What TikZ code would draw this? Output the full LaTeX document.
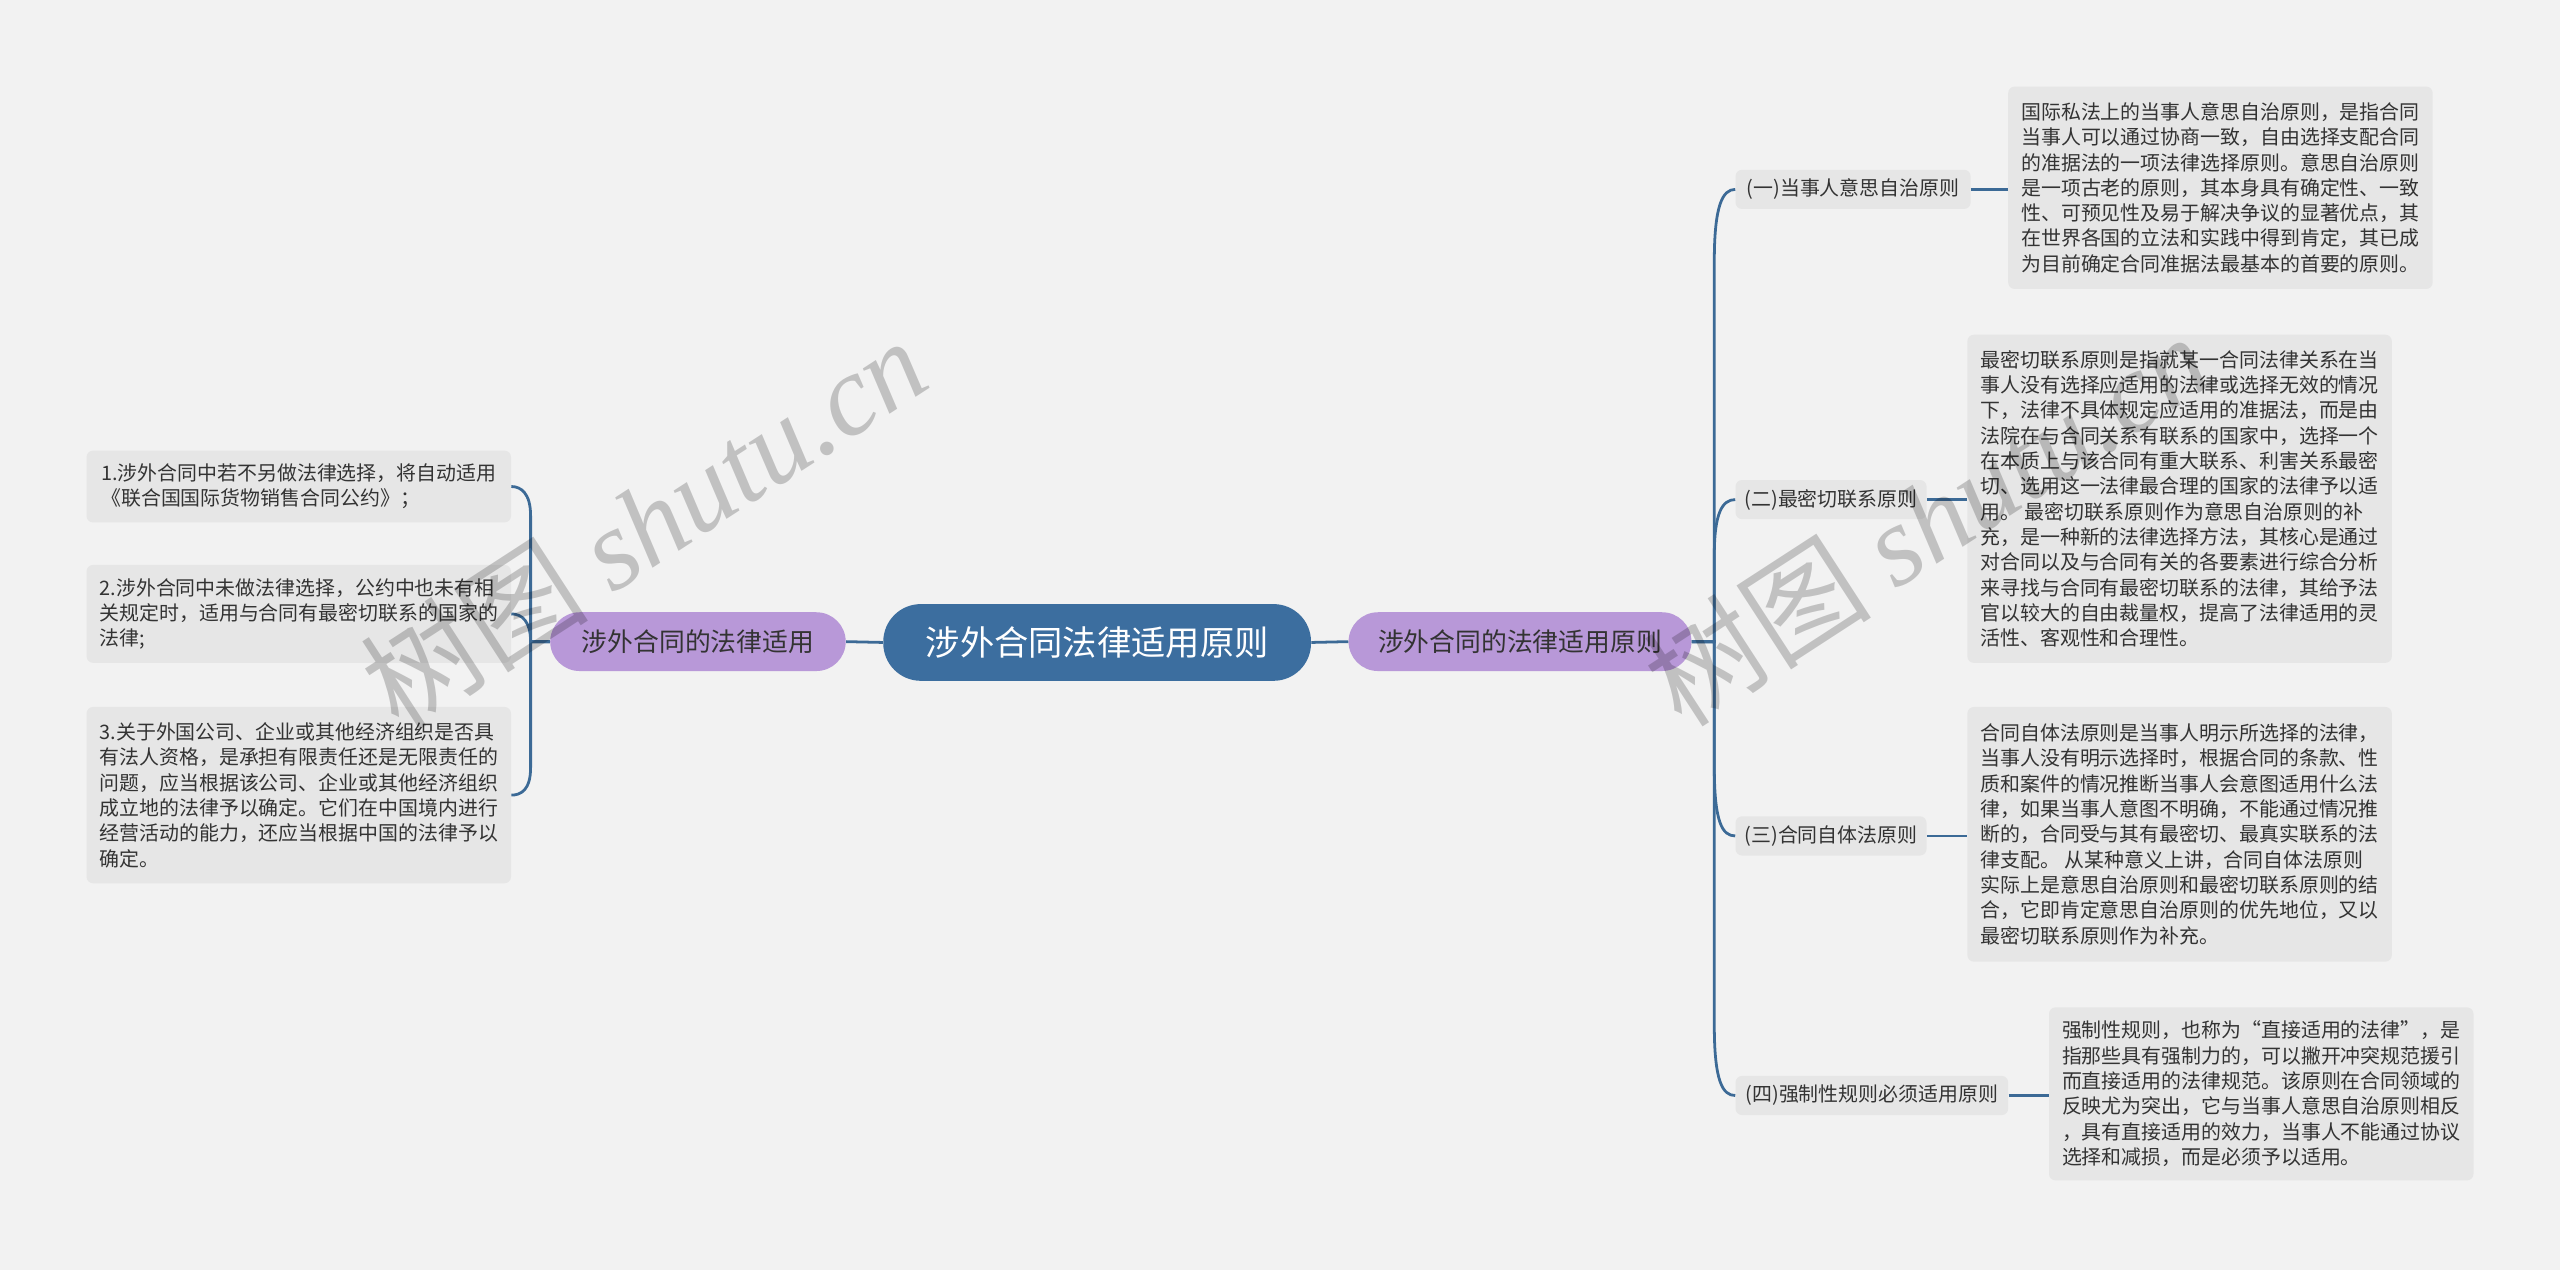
\documentclass[tikz,border=0pt]{standalone}
\usepackage{fontspec}
\setmainfont{Noto Sans CJK SC}
\newfontfamily\wmlatin{Liberation Serif}
\definecolor{bgc}{HTML}{F2F2F2}
\definecolor{boxc}{HTML}{E6E6E6}
\definecolor{centc}{HTML}{3C6E9F}
\definecolor{purp}{HTML}{B898D8}
\definecolor{linec}{HTML}{3C6A96}
\definecolor{txt}{HTML}{333333}
\begin{document}
\begin{tikzpicture}[x=1pt,y=-1pt,
  detail/.style={fill=boxc, rounded corners=4pt, inner sep=0pt, align=left, text=txt,
    font=\fontsize{12.2}{15.5}\selectfont},
  sub/.style={fill=boxc, rounded corners=4pt, inner sep=0pt, text=txt, minimum height=24pt,
    font=\fontsize{12.2}{14}\selectfont},
  mainn/.style={fill=purp, rounded corners=18pt, inner sep=0pt, text=txt, minimum height=36pt,
    font=\fontsize{15.8}{18}\selectfont},
  link/.style={draw=linec, line width=1.7pt},
  wm/.style={text=black, opacity=0.2, font=\fontsize{70}{72}\selectfont}]
\fill[bgc] (0,0) rectangle (1568,778);
\useasboundingbox (0,0) rectangle (1568,778);

% main nodes
\node[fill=centc, rounded corners=23pt, inner sep=0pt, minimum width=262pt, minimum height=47pt,
  text=white, font=\fontsize{21}{24}\selectfont] (C) at (672,393.5) {涉外合同法律适用原则};
\node[mainn, minimum width=181pt] (L) at (427.5,393) {涉外合同的法律适用};
\node[mainn, minimum width=210pt] (R) at (931,393) {涉外合同的法律适用原则};

% left detail boxes
\node[detail, minimum width=260pt, minimum height=44pt] (b1) at (183,298) {1.涉外合同中若不另做法律选择，将自动适用\\《联合国国际货物销售合同公约》；};
\node[detail, minimum width=260pt, minimum height=60pt] (b2) at (183,376) {2.涉外合同中未做法律选择，公约中也未有相\\关规定时，适用与合同有最密切联系的国家的\\法律;};
\node[detail, minimum width=260pt, minimum height=108pt] (b3) at (183,487) {3.关于外国公司、企业或其他经济组织是否具\\有法人资格，是承担有限责任还是无限责任的\\问题，应当根据该公司、企业或其他经济组织\\成立地的法律予以确定。它们在中国境内进行\\经营活动的能力，还应当根据中国的法律予以\\确定。};

% right sub nodes
\node[sub, minimum width=144pt] (s1) at (1135,116) {(一)当事人意思自治原则};
\node[sub, minimum width=117pt] (s2) at (1121.5,306) {(二)最密切联系原则};
\node[sub, minimum width=117pt] (s3) at (1121.5,512) {(三)合同自体法原则};
\node[sub, minimum width=167pt] (s4) at (1146.5,671) {(四)强制性规则必须适用原则};

% right detail boxes
\node[detail, minimum width=260pt, minimum height=124pt] (d1) at (1360,115) {国际私法上的当事人意思自治原则，是指合同\\当事人可以通过协商一致，自由选择支配合同\\的准据法的一项法律选择原则。意思自治原则\\是一项古老的原则，其本身具有确定性、一致\\性、可预见性及易于解决争议的显著优点，其\\在世界各国的立法和实践中得到肯定，其已成\\为目前确定合同准据法最基本的首要的原则。};
\node[detail, minimum width=260pt, minimum height=201pt] (d2) at (1335,305.5) {最密切联系原则是指就某一合同法律关系在当\\事人没有选择应适用的法律或选择无效的情况\\下，法律不具体规定应适用的准据法，而是由\\法院在与合同关系有联系的国家中，选择一个\\在本质上与该合同有重大联系、利害关系最密\\切、选用这一法律最合理的国家的法律予以适\\用。 最密切联系原则作为意思自治原则的补\\充，是一种新的法律选择方法，其核心是通过\\对合同以及与合同有关的各要素进行综合分析\\来寻找与合同有最密切联系的法律，其给予法\\官以较大的自由裁量权，提高了法律适用的灵\\活性、客观性和合理性。};
\node[detail, minimum width=260pt, minimum height=156pt] (d3) at (1335,511) {合同自体法原则是当事人明示所选择的法律，\\当事人没有明示选择时，根据合同的条款、性\\质和案件的情况推断当事人会意图适用什么法\\律，如果当事人意图不明确，不能通过情况推\\断的，合同受与其有最密切、最真实联系的法\\律支配。 从某种意义上讲，合同自体法原则\\实际上是意思自治原则和最密切联系原则的结\\合，它即肯定意思自治原则的优先地位，又以\\最密切联系原则作为补充。};
\node[detail, minimum width=260pt, minimum height=106pt] (d4) at (1385,670) {强制性规则，也称为“直接适用的法律”，是\\指那些具有强制力的，可以撇开冲突规范援引\\而直接适用的法律规范。该原则在合同领域的\\反映尤为突出，它与当事人意思自治原则相反\\，具有直接适用的效力，当事人不能通过协议\\选择和减损，而是必须予以适用。};

% connectors centre
\draw[link] (L.east) -- (C.west);
\draw[link] (C.east) -- (R.west);

% left bracket
\draw[link] (L.west) -- (325,393) -- (325,316) .. controls (325,302) and (319,298) .. (b1.east);
\draw[link] (L.west) -- (325,393) .. controls (325,381) and (320,376) .. (b2.east);
\draw[link] (L.west) -- (325,393) -- (325,470) .. controls (325,484) and (319,487) .. (b3.east);

% right bracket
\draw[link] (R.east) -- (1050,393) -- (1050,160) .. controls (1050,126) and (1055,116) .. (s1.west);
\draw[link] (R.east) -- (1050,393) -- (1050,340) .. controls (1050,314) and (1055,306) .. (s2.west);
\draw[link] (R.east) -- (1050,393) -- (1050,470) .. controls (1050,504) and (1055,512) .. (s3.west);
\draw[link] (R.east) -- (1050,393) -- (1050,628) .. controls (1050,662) and (1055,671) .. (s4.west);

% sub to detail
\draw[link] (s1.east) -- (s1.east -| d1.west);
\draw[link] (s2.east) -- (s2.east -| d2.west);
\draw[link] (s3.east) -- (s3.east -| d3.west);
\draw[link] (s4.east) -- (s4.east -| d4.west);

% watermarks
\node[wm, rotate=33] (w1) at (394,320) {树图 {\wmlatin\itshape shutu.cn}};
\node[wm, rotate=33] (w2) at (1180,318) {树图 {\wmlatin\itshape shutu.cn}};
\end{tikzpicture}
\end{document}
